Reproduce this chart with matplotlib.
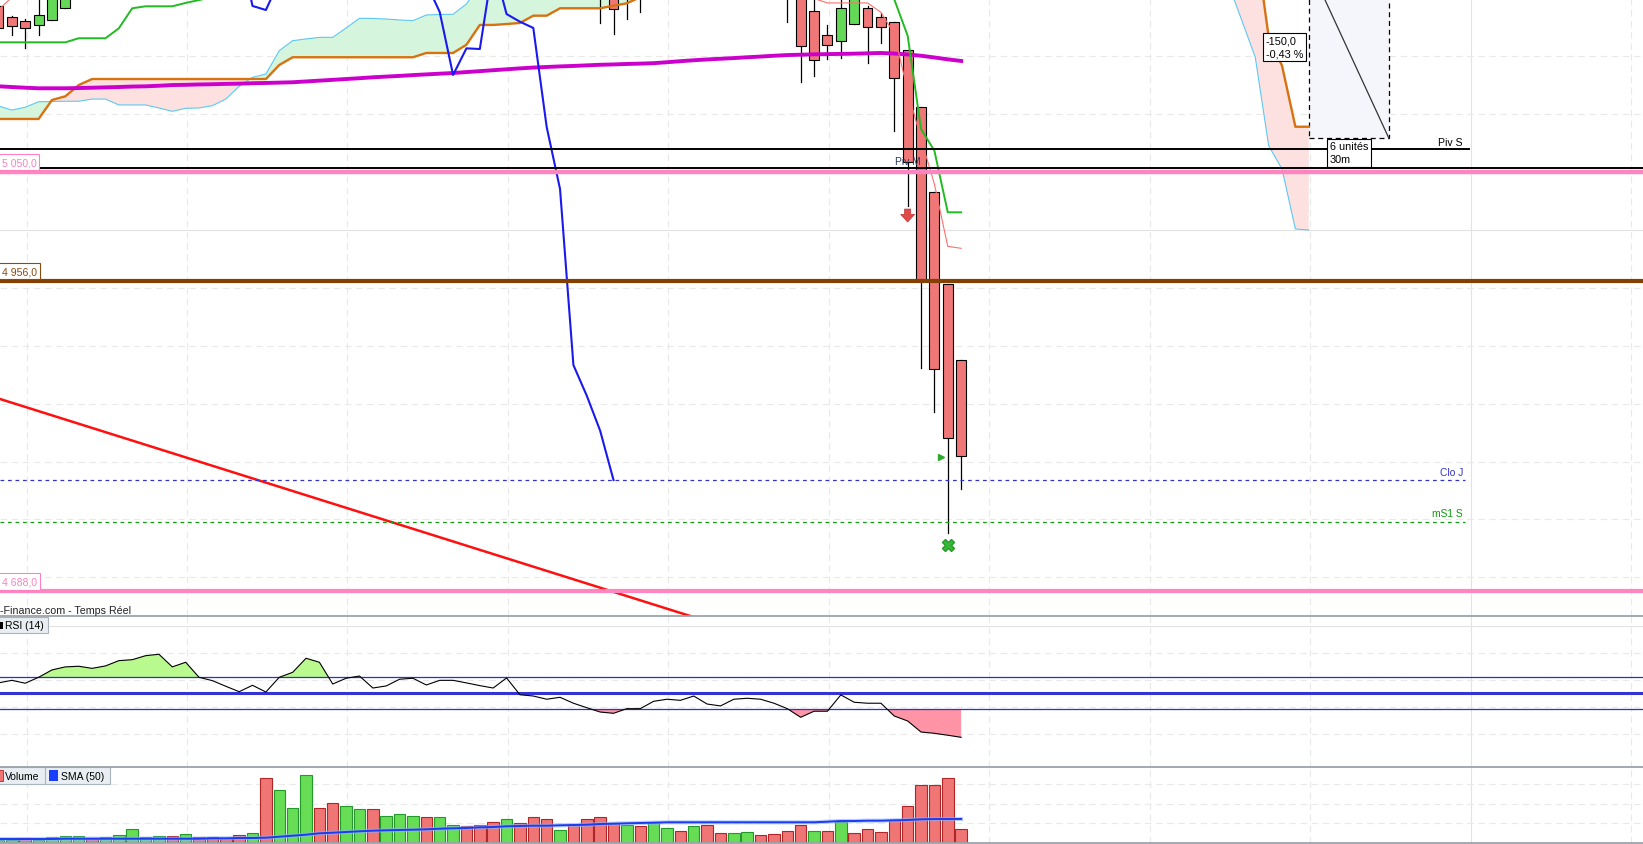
import numpy as np
import matplotlib.pyplot as plt
from matplotlib.patches import Rectangle
from matplotlib.lines import Line2D

plt.rcParams['font.family'] = ['Liberation Sans', 'DejaVu Sans']

# ---------------- data (30 min bars, index 0 = left edge) ----------------
# candles that reach into the visible price window (parts above the window are estimates)
candle_idx = [0, 1, 2, 3, 4, 5, 45, 46, 47, 48, 59, 60, 61, 62, 63, 64, 65, 66, 67, 68, 69, 70, 71, 72]
candle_open = [35193.5, 35183.5, 35180, 35177, 35181.5, 35192, 35215, 35215, 35210, 35212,
               35215, 35210, 35189, 35168, 35163.5, 35177.5, 35192, 35183.5, 35179.5, 35155,
               35106.5, 35032.5, 34953.5, 34887.5]
candle_high = [35196, 35185, 35182, 35210, 35225, 35230, 35230, 35225, 35220, 35220,
               35225, 35220, 35200, 35177, 35210, 35220, 35193.5, 35187, 35179.5, 35155,
               35106.5, 35032.5, 34953.5, 34887.5]
candle_low = [35172, 35168.5, 35157.5, 35168, 35181.5, 35192, 35179, 35169.5, 35182, 35188.5,
              35179.5, 35128, 35132.5, 35147.5, 35148.5, 35177.5, 35144, 35161, 35085.5, 35020.5,
              34880.5, 34842.5, 34738, 34776]
candle_close = [35174, 35176, 35174, 35185.5, 35215, 35220, 35205, 35190.5, 35205, 35205,
                35205, 35159, 35146.5, 35159.5, 35191.5, 35210, 35175, 35175, 35131, 35058.5,
                34956.5, 34880, 34820.5, 34804.5]

# ichimoku cloud (shifted 26 bars forward, None = above the window)
senkou_a = ([35107.0, 35103.5, 35105.9, 35110.7, 35110.9, 35111.1, 35111.1, 35113.0, 35113.0, 35107.9,
             35107.9, 35107.9, 35105.3, 35102.4, 35105.0, 35105.3, 35107.3, 35113.0, 35124.0, 35131.8,
             35134.6, 35154.8, 35163.4, 35164.9, 35166.3, 35166.3, 35174.4, 35182.7, 35182.6, 35182.1,
             35181.3, 35180.7, 35185.6, 35186.0, 35186.2, 35195.1, 35212.0]
            + [None] * 55
            + [35212.0, 35180.7, 35149.1, 35072.7, 35052.6, 35000.8, 35000.0])
senkou_b = ([35095.8, 35095.8, 35095.8, 35095.8, 35112.2, 35115.4, 35125.1, 35130.3, 35130.3, 35130.3,
             35130.3, 35130.3, 35130.3, 35130.3, 35130.3, 35130.3, 35130.3, 35130.3, 35130.3, 35130.3,
             35130.3, 35142.4, 35149.1, 35149.1, 35149.1, 35149.1, 35149.1, 35149.1, 35149.1, 35149.1,
             35149.1, 35149.1, 35152.8, 35152.8, 35152.8, 35159.9, 35177.0, 35177.0, 35177.8, 35178.7,
             35185.0, 35185.0, 35191.4, 35191.4, 35191.4, 35191.4, 35193.6, 35195.7, 35201.0]
            + [None] * 45
            + [35251.0, 35166.6, 35141.8, 35089.1, 35089.1])
kijun = ([35162.0, 35162.0, 35162.0, 35162.0, 35162.0, 35162.0, 35165.5, 35165.5, 35165.5, 35174.1,
          35191.4, 35193.1, 35193.1, 35193.1, 35196.0, 35198.5, 35201.0]
         + [None] * 49
         + [35215.0, 35199.0, 35167.7, 35087.1, 35068.4, 35015.2, 35015.2])
tenkan = ([35190.0, 35201.0]
          + [None] * 58
          + [35212.0, 35199.8, 35196.0, 35196.0, 35196.0, 35196.0, 35187.9, 35169.2, 35120.0, 35078.5,
             35039.6, 34985.8, 34984.1])
chikou = ([None] * 18
          + [35245.0, 35193.4, 35189.9, 35215.0]
          + [None] * 10
          + [35213.0, 35188.2, 35133.8, 35156.8, 35156.2, 35230.0, 35186.4, 35179.8, 35174.4, 35088.9,
             35035.3, 34883.3, 34856.8, 34826.6, 34784.0])
sma_price = [35124.0, 35123.4, 35122.8, 35122.3, 35122.3, 35122.3, 35122.5, 35122.8, 35123.1, 35123.4,
             35123.8, 35124.0, 35124.5, 35125.1, 35125.3, 35125.6, 35125.8, 35126.1, 35126.3, 35126.7,
             35126.9, 35127.2, 35127.5, 35128.2, 35128.9, 35129.6, 35130.3, 35131.0, 35131.8, 35132.4,
             35133.0, 35133.7, 35134.3, 35134.9, 35135.5, 35136.3, 35137.1, 35137.9, 35138.7, 35139.5,
             35140.2, 35140.7, 35141.2, 35141.6, 35142.1, 35142.6, 35142.9, 35143.3, 35143.6, 35144.0,
             35144.8, 35145.7, 35146.5, 35147.2, 35147.8, 35148.4, 35149.1, 35149.7, 35150.4, 35151.0,
             35151.3, 35151.6, 35151.8, 35152.0, 35152.2, 35152.5, 35152.8, 35152.3, 35151.5, 35150.4,
             35148.9, 35147.3, 35145.9]

# horizontal levels
piv_s = 35070
piv_m = 35053.5
level_hi = 35050
level_mid = 34956
level_lo = 34688
clo_j = 34784
ms1_s = 34748
trend_x = [0, 60]
trend_y = [34854.4, 34636.6]
price_grid = [34700, 34750, 34800, 34850, 34900, 34950, 35000, 35100, 35150]
# left price tags, as far as they are visible in the screenshot
level_tags = ['5 050,0', '4 956,0', '4 688,0']

# measuring tool
measure_x = [98, 104]
measure_y = [35229, 35079]

# RSI (14)
rsi = [56.3, 57.9, 56.1, 59.8, 64.4, 66.3, 66.7, 65.4, 66.9, 70.2,
       70.8, 73.3, 74.2, 66.3, 69.2, 59.8, 57.7, 54.2, 50.8, 54.8,
       50.6, 59.8, 62.9, 71.7, 69.2, 55.6, 59.2, 60.6, 53.1, 54.4,
       58.6, 59.2, 55.0, 57.9, 57.9, 56.3, 54.6, 53.1, 59.4, 48.9,
       48.1, 46.1, 47.3, 43.6, 40.8, 38.1, 37.3, 40.2, 40.2, 44.8,
       46.1, 45.4, 48.1, 43.1, 41.9, 46.1, 46.7, 46.1, 43.6, 40.2,
       34.8, 38.6, 38.6, 48.8, 44.2, 43.6, 43.6, 35.6, 32.5, 25.6,
       24.8, 23.6, 22.3]
rsi_grid = [24.4, 41.25, 58.1, 75.0]

# volume + SMA(50)
volume = [150, 140, 240, 140, 290, 340, 340, 240, 290, 395,
          700, 290, 340, 340, 445, 290, 290, 240, 395, 500,
          3320, 2700, 1780, 3470, 1780, 2035, 1880, 1730, 1730, 1370,
          1470, 1370, 1320, 1320, 910, 860, 910, 1060, 1215, 1010,
          1320, 1215, 650, 910, 1215, 1320, 1010, 910, 860, 1060,
          755, 600, 860, 910, 500, 500, 550, 395, 445, 600,
          910, 600, 600, 1060, 500, 700, 550, 1165, 1880, 2960,
          2960, 3320, 700]
volume_dir = list("ggrggggrgg" "gggrgrrrrg" "rgggrrggrg" "ggrggrrrgr"
                  "rrgrrrrgrg" "grgrrggrrr" "rgrgrrrrrr" "rrr")
volume_sma = [205, 205, 205, 205, 205, 220, 220, 220, 220, 220,
              220, 220, 220, 220, 220, 220, 241, 241, 256, 256,
              272, 323, 374, 426, 497, 528, 564, 600, 631, 651,
              667, 682, 703, 733, 754, 769, 805, 820, 856, 872,
              887, 887, 908, 923, 938, 974, 990, 1010, 1026, 1041,
              1062, 1062, 1062, 1062, 1062, 1062, 1062, 1062, 1062, 1062,
              1062, 1062, 1092, 1128, 1128, 1144, 1144, 1164, 1179, 1215,
              1231, 1231, 1231]
volume_grid = [1000, 2000, 3000]

# ---------------- layout ----------------
W, H = 1643, 845
PX_BAR = 13.37   # pixels per bar
X0_PX = -1.5     # pixel of bar 0


def fx(px):
    return px / W


def fy(py):
    return 1 - py / H


fig = plt.figure(figsize=(W / 100, H / 100), dpi=100, facecolor='white')
ax = fig.add_axes([0, fy(617), 1, 617 / H])
ax_rsi = fig.add_axes([0, fy(768), 1, 151 / H])
ax_vol = fig.add_axes([0, fy(844), 1, 76 / H])
xlim = (-X0_PX / PX_BAR, (W - X0_PX) / PX_BAR)
for a in (ax, ax_rsi, ax_vol):
    a.set_xlim(*xlim)
    a.set_axis_off()
ax.set_ylim(34666.6, 35199.4)
ax_rsi.set_ylim(3.75, 98.1)
ax_vol.set_ylim(0, 3897)

# vertical grid in every pane
for k, xg in enumerate(np.arange(2.1, 124, 12)):
    for a in (ax, ax_rsi, ax_vol):
        if k == 9:
            a.axvline(xg, color='#e3e3e3', lw=0.8, zorder=0)
        else:
            a.axvline(xg, color='#e9e9e9', lw=0.8, ls=(0, (6, 4)), zorder=0)

for p in price_grid:
    if p == 35000:
        ax.axhline(p, color='#e3e3e3', lw=0.8, zorder=0)
    else:
        ax.axhline(p, color='#e9e9e9', lw=0.8, ls=(0, (6, 4)), zorder=0)

# ---------------- main pane ----------------
top = ax.get_ylim()[1]
sa = np.array(senkou_a, dtype=float)
sb = np.array(senkou_b, dtype=float)
fa = np.where(np.isnan(sa), top + 40, sa)
fb = np.where(np.isnan(sb), top + 40, sb)
xc = np.arange(len(sa))
ax.fill_between(xc, fa, fb, where=fa >= fb, interpolate=True, color='#d6f5dd', lw=0, zorder=1)
ax.fill_between(xc, fa, fb, where=fa < fb, interpolate=True, color='#fde1e1', lw=0, zorder=1)

# measuring rectangle
ax.add_patch(Rectangle((measure_x[0], measure_y[1]), measure_x[1] - measure_x[0],
                       measure_y[0] - measure_y[1], fc='#f4f6fc', ec='black', lw=0.9,
                       ls=(0, (4, 3)), zorder=2))
ax.plot(measure_x, measure_y, color='#333333', lw=0.9, zorder=2)

for i, o, h, l, c in zip(candle_idx, candle_open, candle_high, candle_low, candle_close):
    up = c >= o
    ax.plot([i, i], [l, h], color='black', lw=0.9, zorder=3)
    ax.add_patch(Rectangle((i - 0.37, min(o, c)), 0.74, abs(c - o),
                           fc='#63d957' if up else '#f07777', ec='black', lw=0.8, zorder=4))

ax.plot(xc, sa, color='#5ec8f2', lw=0.8, zorder=5)
ax.plot(xc, sb, color='#d8720f', lw=1.7, zorder=5)
ax.plot(np.arange(len(sma_price)), sma_price, color='#cc00cc', lw=2.8, zorder=5)
ax.plot(np.arange(len(kijun)), np.array(kijun, dtype=float), color='#22bb22', lw=1.4, zorder=5)
ax.plot(np.arange(len(tenkan)), np.array(tenkan, dtype=float), color='#ff6f6f', lw=0.8, zorder=5)
ax.plot(np.arange(len(chikou)), np.array(chikou, dtype=float), color='#1a1aee', lw=1.5, zorder=5)
ax.plot(trend_x, trend_y, color='#ff1010', lw=1.8, zorder=5)

# levels
ax.axhline(piv_s, xmax=1469 / W, color='black', lw=1.4, zorder=6)
ax.axhline(piv_m, color='black', lw=1.4, zorder=6)
ax.axhline(level_hi, color='#ff85c1', lw=3.2, zorder=6)
ax.axhline(level_mid, color='#844000', lw=3.0, zorder=6)
ax.axhline(level_lo, color='#ff85c1', lw=3.0, zorder=6)
ax.axhline(clo_j, xmax=1465 / W, color='#3333cc', lw=0.9, ls=(0, (3, 3)), zorder=6)
ax.axhline(ms1_s, xmax=1465 / W, color='#119911', lw=0.9, ls=(0, (3, 3)), zorder=6)

for val, txt, col in zip([level_hi, level_mid, level_lo], level_tags,
                         ['#ff80bf', '#8a4a10', '#ff80bf']):
    ax.annotate(txt, xy=(1.5 / W, val), xycoords=('axes fraction', 'data'), xytext=(0, 7),
                textcoords='offset points', ha='left', va='center', fontsize=7.6, color=col,
                bbox=dict(boxstyle='square,pad=0.3', fc='white', ec=col, lw=0.8), zorder=9)

x_lab = (1463 - X0_PX) / PX_BAR
ax.text(x_lab, 35076, 'Piv S', ha='right', va='center', fontsize=7.6, color='black', zorder=9)
ax.text(x_lab, 34791, 'Clo J', ha='right', va='center', fontsize=7.4, color='#3333cc', zorder=9)
ax.text(x_lab, 34755.5, 'mS1 S', ha='right', va='center', fontsize=7.4, color='#119911', zorder=9)
ax.text(68, 35059.5, 'Piv M', ha='center', va='center', fontsize=7.4, color='#2a3c64', zorder=7)

ax.text((1266 - X0_PX) / PX_BAR, 35168, '-150,0\n-0,43 %', ha='left', va='top', fontsize=7.8,
        linespacing=1.35, bbox=dict(boxstyle='square,pad=0.25', fc='white', ec='black', lw=0.8),
        zorder=9)
ax.text((1330 - X0_PX) / PX_BAR, 35076.5, '6 unités\n30m', ha='left', va='top', fontsize=7.8,
        linespacing=1.35, bbox=dict(boxstyle='square,pad=0.25', fc='white', ec='black', lw=0.8),
        zorder=9)

# signals
ax.annotate('', xy=(68, 35006.8), xytext=(68, 35018),
            arrowprops=dict(arrowstyle='simple,head_length=0.5,head_width=0.9,tail_width=0.4',
                            fc='#e24a4a', ec='#c03030', lw=0.5, shrinkA=0, shrinkB=0,
                            mutation_scale=11), zorder=7)
ax.plot(70.5, 34803.6, marker='>', ms=4, color='#2ea82e', zorder=7)
ax.plot(71, 34728, marker='X', ms=8, color='#38b838', mec='#2a9a2a', zorder=7)

# ---------------- RSI pane ----------------
xr = np.arange(len(rsi))
r = np.array(rsi)
for g in rsi_grid:
    ax_rsi.axhline(g, color='#e9e9e9', lw=0.8, ls=(0, (6, 4)), zorder=0)
ax_rsi.axhline(91.9, color='#e3e3e3', lw=0.8, zorder=0)
ax_rsi.fill_between(xr, r, 60, where=r >= 60, interpolate=True, color='#b9f98e', lw=0, zorder=2)
ax_rsi.fill_between(xr, r, 40, where=r <= 40, interpolate=True, color='#ff94a6', lw=0, zorder=2)
ax_rsi.axhline(60, color='#2f2fd0', lw=0.9, zorder=3)
ax_rsi.axhline(40, color='#2f2fd0', lw=0.9, zorder=3)
ax_rsi.axhline(50, color='#3333d6', lw=2.2, zorder=3)
ax_rsi.plot(xr, r, color='black', lw=0.8, zorder=4)

# ---------------- volume pane ----------------
xv = np.arange(len(volume))
for g in volume_grid:
    ax_vol.axhline(g, color='#e9e9e9', lw=0.8, ls=(0, (6, 4)), zorder=0)
face = ['#66dd55' if d == 'g' else '#f07575' for d in volume_dir]
edge = ['#229a2a' if d == 'g' else '#b02626' for d in volume_dir]
ax_vol.bar(xv, volume, width=0.86, color=face, edgecolor=edge, lw=0.8, zorder=2)
ax_vol.plot(xv, volume_sma, color='#8fb0ff', lw=3.0, alpha=0.6, zorder=3)
ax_vol.plot(xv, volume_sma, color='#1a3cf0', lw=1.4, zorder=4)

# ---------------- pane separators and captions ----------------
for yp in (617, 768, 844):
    fig.add_artist(Line2D([0, 1], [fy(yp), fy(yp)], transform=fig.transFigure,
                          color='#9aa4aa', lw=1.3))

fig.text(fx(0), fy(611.5), '-Finance.com - Temps Réel', ha='left', va='center',
         fontsize=7.7, color='#222222')

box_kw = dict(transform=fig.transFigure, fc='#e9eef3', ec='#a9b5bd', lw=0.8)
fig.add_artist(Rectangle((fx(-1), fy(634)), fx(48.5), 16 / H, **box_kw))
fig.add_artist(Rectangle((fx(0), fy(630)), fx(2.7), 7 / H, transform=fig.transFigure,
                         fc='black', lw=0))
fig.text(fx(5), fy(626.5), 'RSI (14)', ha='left', va='center', fontsize=7.5, color='black')

fig.add_artist(Rectangle((fx(-1), fy(785.3)), fx(45.6), 17 / H, **box_kw))
fig.add_artist(Rectangle((fx(44.6), fy(785.3)), fx(65.4), 17 / H, **box_kw))
fig.add_artist(Rectangle((fx(-1), fy(782)), fx(3.5), 11 / H, transform=fig.transFigure,
                         fc='#f07575', ec='#b02626', lw=0.6))
fig.add_artist(Rectangle((fx(48.5), fy(782)), fx(9), 11 / H, transform=fig.transFigure,
                         fc='#1a3cff', lw=0))
fig.text(fx(5), fy(776.8), 'Volume', ha='left', va='center', fontsize=7.5, color='black')
fig.text(fx(60.6), fy(776.8), 'SMA (50)', ha='left', va='center', fontsize=7.5, color='black')

fig.savefig('out.png', dpi=100, facecolor='white')
